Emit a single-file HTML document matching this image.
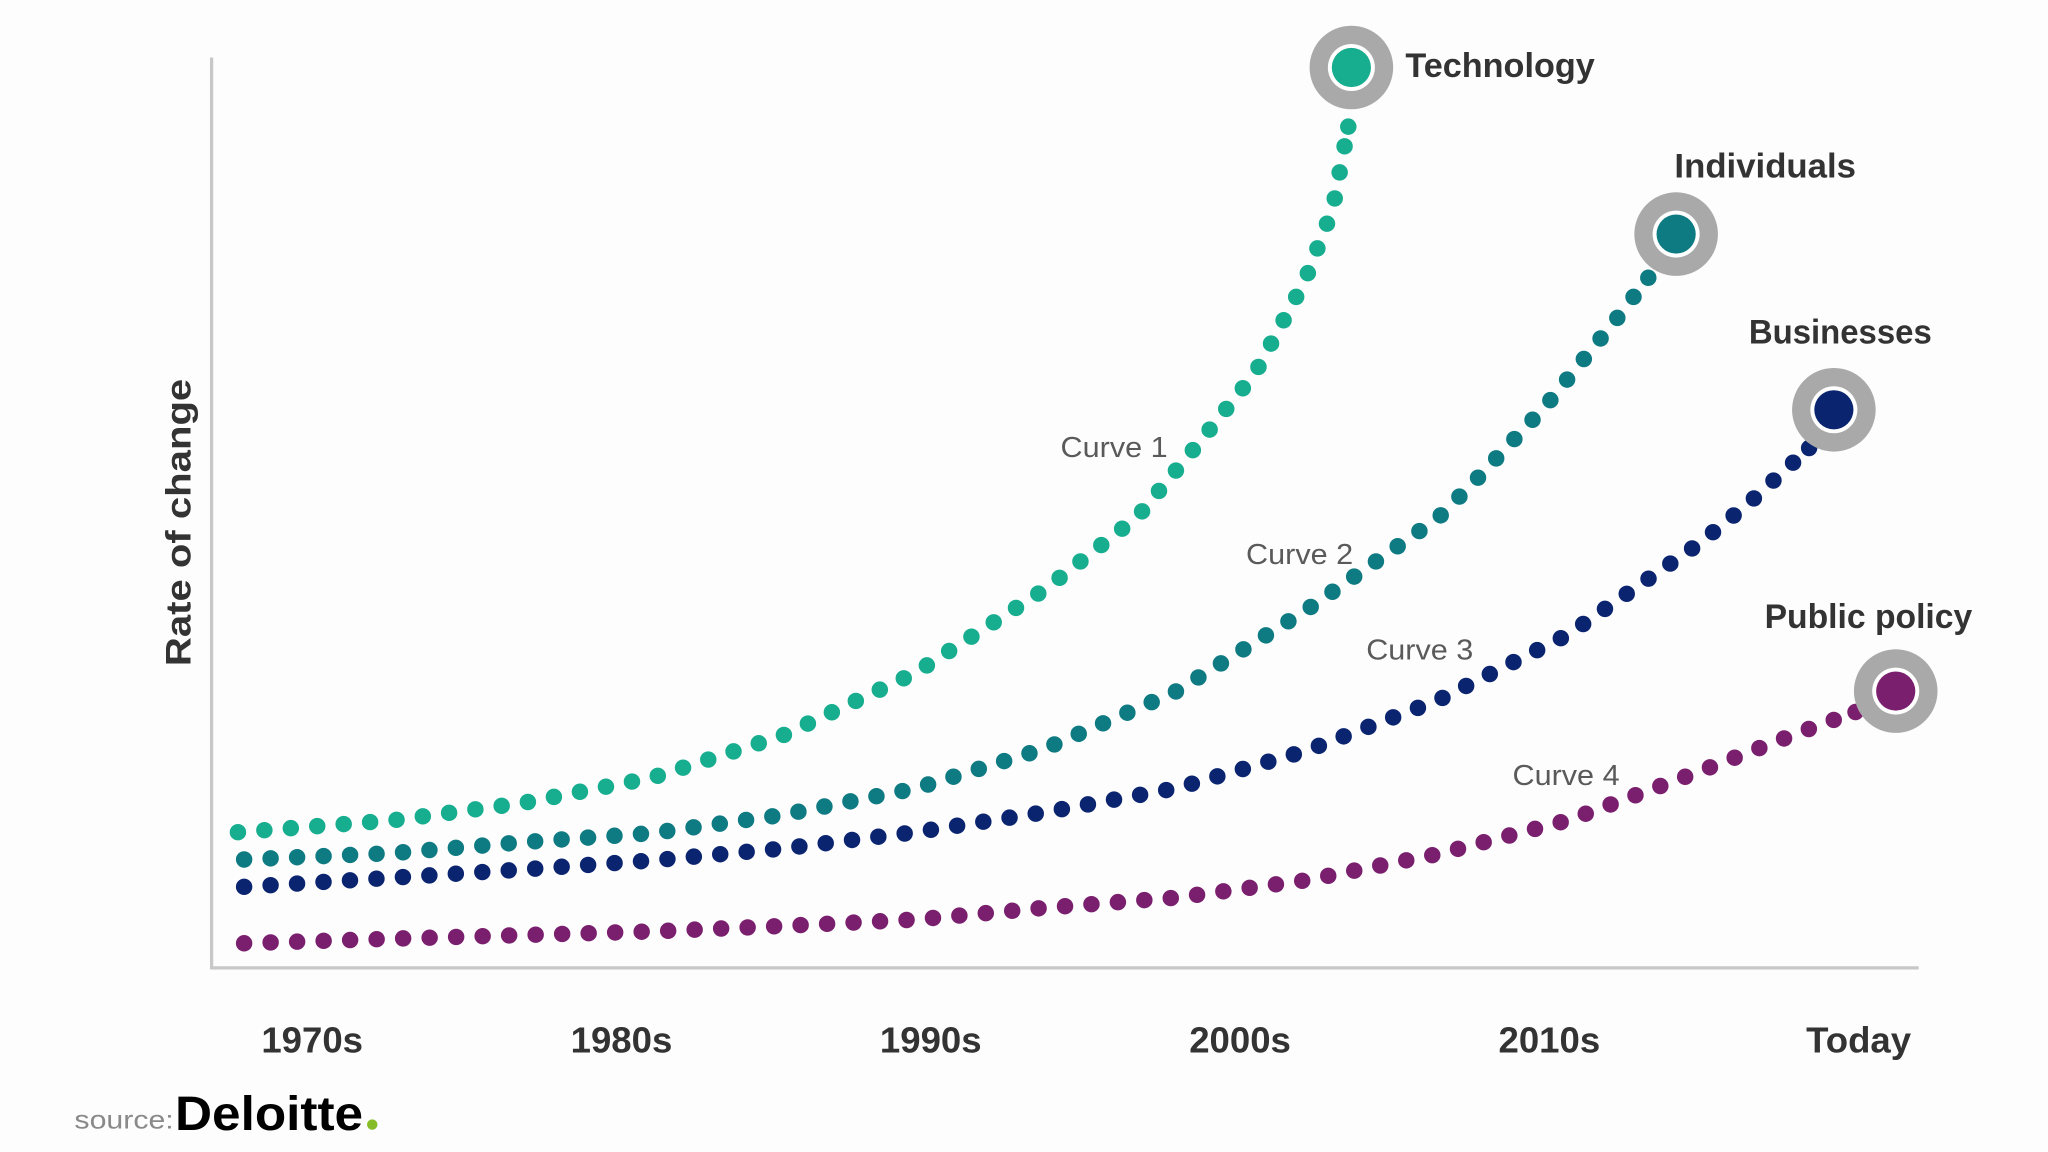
<!DOCTYPE html>
<html><head><meta charset="utf-8">
<style>
html,body{margin:0;padding:0;background:#fdfdfd;}
svg{display:block;}
text{font-family:"Liberation Sans",sans-serif;}
</style></head>
<body>
<svg id="chart" width="2048" height="1152" viewBox="0 0 1568 882" preserveAspectRatio="none" xmlns="http://www.w3.org/2000/svg">
  <rect x="0" y="0" width="1568" height="882" fill="#fdfdfd"/>
  <line x1="162" y1="44" x2="162" y2="742" stroke="#c8c8c8" stroke-width="2.5"/>
  <line x1="161" y1="741" x2="1469" y2="741" stroke="#c8c8c8" stroke-width="2.5"/>
  <text x="0" y="0" transform="translate(146,400) rotate(-90)" text-anchor="middle" font-size="27" font-weight="bold" fill="#333" textLength="220" lengthAdjust="spacingAndGlyphs">Rate of change</text>
  <g id="xticks"></g>
  <g id="series"></g>
  <g id="labels"></g>
  <text x="57" y="864" font-size="20" fill="#8a8a8a" textLength="76" lengthAdjust="spacingAndGlyphs">source:</text>
  <text x="134" y="865" font-size="37" font-weight="bold" fill="#000" textLength="144" lengthAdjust="spacingAndGlyphs">Deloitte</text>
  <circle cx="285" cy="861" r="4" fill="#86bc25"/>
</svg>
<script>
const tickLabels = ["1970s","1980s","1990s","2000s","2010s","Today"];
const seriesNames = ["Technology","Individuals","Businesses","Public policy"];
const curveNames = ["Curve 1","Curve 2","Curve 3","Curve 4"];
const colors = ["#17ad8f","#0e7a82","#0b2470","#7a1f6e"];
// x in decades from 1970s, y as rate of change (0-100)
const c1x = [-0.24,0.26,0.68,1.10,1.52,1.95,2.37,2.67,2.88,3.05,3.21,3.30,3.35];
const c1y = [14.9,16.2,18.1,20.9,25.5,32.4,41.6,49.6,58.2,65.4,75.5,83.4,92.4];
const c2x = [-0.22,0.26,0.68,1.10,1.52,1.95,2.37,2.79,3.21,3.64,3.76,3.99,4.22,4.32];
const c2y = [11.9,12.6,13.8,14.8,16.8,19.7,24.1,30.3,39.2,49.4,53.5,61.8,71.4,75.8];
const c3x = [-0.22,0.26,0.68,1.10,1.52,1.95,2.37,2.79,3.21,3.64,4.06,4.48,4.64,4.84];
const c3y = [8.9,9.9,10.8,11.8,13.1,14.9,17.1,19.7,23.8,29.4,36.6,46.5,50.9,57.1];
const c4x = [-0.22,0.26,0.68,1.10,1.52,1.95,2.37,2.79,3.21,3.64,4.06,4.48,4.82,4.99];
const c4y = [2.7,3.2,3.6,4.0,4.6,5.3,6.6,7.7,9.6,12.5,16.2,21.5,26.0,28.1];
const markerX = [3.36,4.41,4.92,5.12];
const markerY = [98.9,80.6,61.3,30.4];

const NS = "http://www.w3.org/2000/svg";
function xs(v){ return 239 + v*236.8; }
function ys(v){ return 741 - v*6.97; }
function mk(tag, attrs, parent){
  const e = document.createElementNS(NS, tag);
  for (const k in attrs) e.setAttribute(k, attrs[k]);
  parent.appendChild(e);
  return e;
}
const xt = document.getElementById('xticks');
tickLabels.forEach((t,i)=>{
  const e = mk('text',{x:xs(i),y:806,'text-anchor':'middle','font-size':28,'font-weight':'bold',fill:'#333'},xt);
  
  
  e.textContent = t;
});
const sg = document.getElementById('series');
const allX = [c1x,c2x,c3x,c4x], allY = [c1y,c2y,c3y,c4y];
allX.forEach((cx,si)=>{
  const cy = allY[si];
  const g = mk('g',{},sg);
  
  
  const pts = cx.map((v,i)=>[xs(v), ys(cy[i])]);
  const step = 20.3;
  let carry = 0;
  let lastX = null, lastY = null;
  for (let i=0;i<pts.length-1;i++){
    const [ax,ay]=pts[i],[bx,by]=pts[i+1];
    const L = Math.hypot(bx-ax,by-ay);
    let d = carry;
    while (d <= L){
      const t = d/L;
      lastX = ax+(bx-ax)*t; lastY = ay+(by-ay)*t;
      const c = mk('circle',{cx:lastX, cy:lastY, r:6.3, fill:colors[si]},g);
      
      
      d += step;
    }
    carry = d - L;
  }
  const end = pts[pts.length-1];
  if (Math.hypot(end[0]-lastX, end[1]-lastY) > 10){
    const c = mk('circle',{cx:end[0], cy:end[1], r:6.3, fill:colors[si]},g);
    
    
  }
  const mx = xs(markerX[si]), my = ys(markerY[si]);
  const halo = mk('circle',{cx:mx,cy:my,r:32,fill:'#a9a9a9'},g);
  
  
  const ring = mk('circle',{cx:mx,cy:my,r:18,fill:'#ffffff'},g);
  
  
  const dot = mk('circle',{cx:mx,cy:my,r:15,fill:colors[si]},g);
  
  
});
const lg = document.getElementById('labels');
const nameLabelPos = [[1076,59,145],[1282,136,139],[1339,263,140],[1351,481,159]];
seriesNames.forEach((n,i)=>{
  const p = nameLabelPos[i];
  const e = mk('text',{x:p[0],y:p[1],'font-size':26,'font-weight':'bold',fill:'#333',textLength:p[2],lengthAdjust:'spacingAndGlyphs'},lg);
  
  
  e.textContent = n;
});
const curveLabelPos = [[812,350],[954,432],[1046,505],[1158,601]];
curveNames.forEach((n,i)=>{
  const p = curveLabelPos[i];
  const e = mk('text',{x:p[0],y:p[1],'font-size':22,fill:'#5a5a5a',textLength:82,lengthAdjust:'spacingAndGlyphs'},lg);
  
  
  e.textContent = n;
});
</script>
</body></html>
